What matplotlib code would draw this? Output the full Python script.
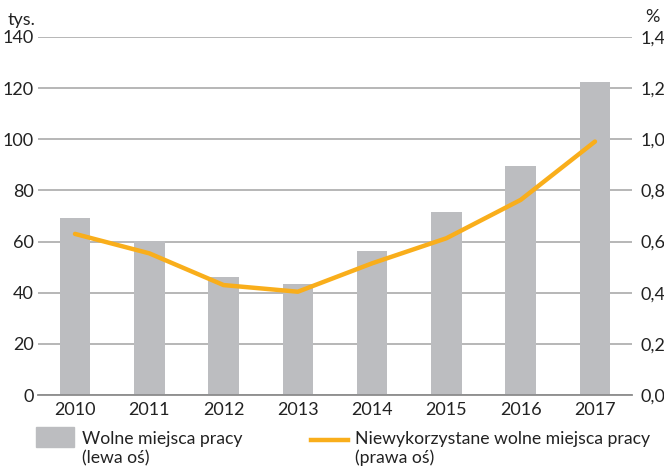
import matplotlib.pyplot as plt
import matplotlib.patches as mpatches
from matplotlib.lines import Line2D
from matplotlib.ticker import FuncFormatter

plt.rcParams['font.family'] = ['Lato', 'DejaVu Sans']

# Data
years = ['2010', '2011', '2012', '2013', '2014', '2015', '2016', '2017']
wolne = [69.2, 60.2, 46.1, 43.4, 56.3, 71.6, 89.6, 122.4]
niewykorzystane = [0.63, 0.554, 0.43, 0.404, 0.515, 0.613, 0.763, 0.991]

bar_color = '#BCBDC0'
line_color = '#F9AE1B'
grid_color = '#A3A3A3'
text_color = '#222222'
W, H = 664, 467

fig = plt.figure(figsize=(6.64, 4.67), dpi=100)
ax = fig.add_axes([0.057, 0.154, 0.895, 0.767])
ax2 = ax.twinx()

x = range(len(years))
ax.bar(x, wolne, width=0.41, color=bar_color, zorder=2)
ax2.plot(x, niewykorzystane, color=line_color, linewidth=3.2, solid_capstyle='round', zorder=3)

ax.set_xlim(-0.5, 7.5)
ax.set_ylim(0, 140)
ax2.set_ylim(0, 1.4)
ax.set_yticks(range(0, 141, 20))
ax2.set_yticks([i * 0.2 for i in range(8)])
ax2.yaxis.set_major_formatter(FuncFormatter(lambda v, p: f'{v:.1f}'.replace('.', ',')))
ax.set_xticks(list(x))
ax.set_xticklabels(years)

ax.grid(axis='y', color=grid_color, linewidth=1.1, zorder=0)
ax.set_axisbelow(True)

for a in (ax, ax2):
    for s in ('top', 'left', 'right', 'bottom'):
        a.spines[s].set_visible(False)
ax.spines['bottom'].set_visible(True)
ax.spines['bottom'].set_color('#8C8C8C')
ax.spines['bottom'].set_linewidth(1.3)

ax.tick_params(axis='y', length=0, pad=3, labelsize=13, colors=text_color)
ax.tick_params(axis='x', length=0, pad=5, labelsize=13, colors=text_color)
ax2.tick_params(axis='y', length=0, pad=6, labelsize=13, colors=text_color)

fig.text(8 / W, 1 - 25 / H, 'tys.', fontsize=13, color=text_color, ha='left', va='baseline')
fig.text(660 / W, 1 - 22 / H, '%', fontsize=13, color=text_color, ha='right', va='baseline')

# Legend (placed by hand)
fig.patches.append(mpatches.Rectangle((36 / W, 1 - 447 / H), 38 / W, 20 / H,
                                      transform=fig.transFigure, color=bar_color))
fig.lines.append(Line2D([311 / W, 348 / W], [1 - 440 / H, 1 - 440 / H],
                        transform=fig.transFigure, color=line_color, linewidth=3.2))
fig.text(82 / W, 1 - 439 / H, 'Wolne miejsca pracy', fontsize=12.7, color=text_color, va='center')
fig.text(82 / W, 1 - 458 / H, '(lewa oś)', fontsize=12.7, color=text_color, va='center')
fig.text(355 / W, 1 - 439 / H, 'Niewykorzystane wolne miejsca pracy', fontsize=12.7, color=text_color, va='center')
fig.text(355 / W, 1 - 458 / H, '(prawa oś)', fontsize=12.7, color=text_color, va='center')

plt.savefig('out.png', dpi=100)
